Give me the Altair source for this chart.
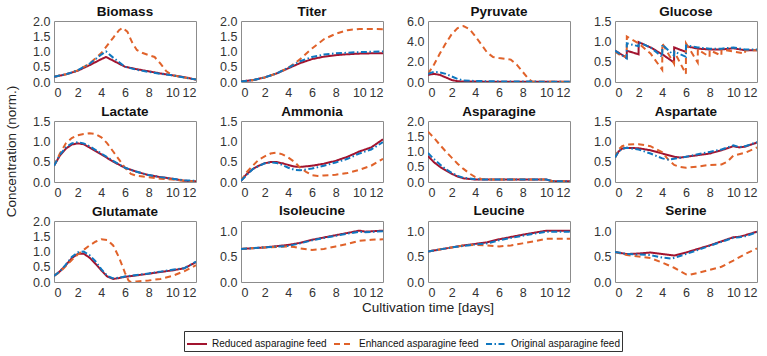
import altair as alt
import pandas as pd

SERIES = ["Reduced asparagine feed", "Enhanced asparagine feed", "Original asparagine feed"]
COLORS = ["#A2142F", "#E0622A", "#0F77C0"]
DASHES = [[1, 0], [6, 4], [6, 2.5, 1.5, 2.5]]

# ---- per-panel time courses: (time [days], normalized concentration) ----
biomass_red_t = [0, 1, 2, 3, 4, 4.4, 5, 6, 7, 8, 9, 10, 11, 12]
biomass_red_v = [0.17, 0.25, 0.37, 0.55, 0.75, 0.82, 0.7, 0.5, 0.42, 0.35, 0.28, 0.22, 0.16, 0.08]
biomass_enh_t = [0, 1, 2, 3, 4, 4.5, 5, 5.5, 5.8, 6.2, 6.6, 7, 7.5, 8, 8.5, 9, 9.5, 10, 11, 12]
biomass_enh_v = [0.17, 0.25, 0.38, 0.6, 0.95, 1.2, 1.45, 1.7, 1.78, 1.65, 1.3, 1.05, 0.95, 0.88, 0.82, 0.6, 0.35, 0.22, 0.15, 0.08]
biomass_ori_t = [0, 1, 2, 3, 4, 4.4, 5, 6, 7, 8, 9, 10, 11, 12]
biomass_ori_v = [0.17, 0.25, 0.38, 0.6, 0.9, 1.0, 0.8, 0.5, 0.4, 0.33, 0.27, 0.22, 0.15, 0.08]

titer_red_t = [0, 1, 2, 3, 4, 5, 6, 7, 8, 9, 10, 11, 12]
titer_red_v = [0.02, 0.06, 0.15, 0.28, 0.45, 0.62, 0.75, 0.83, 0.88, 0.91, 0.93, 0.94, 0.94]
titer_enh_t = [0, 1, 2, 3, 4, 4.5, 5, 6, 7, 8, 9, 10, 11, 12]
titer_enh_v = [0.02, 0.06, 0.15, 0.28, 0.47, 0.6, 0.75, 1.1, 1.4, 1.58, 1.7, 1.74, 1.74, 1.73]
titer_ori_t = [0, 1, 2, 3, 4, 5, 6, 7, 8, 9, 10, 11, 12]
titer_ori_v = [0.02, 0.06, 0.15, 0.28, 0.47, 0.68, 0.82, 0.9, 0.94, 0.96, 0.98, 0.99, 1.0]

pyruvate_red_t = [0, 0.5, 1, 1.5, 2, 2.5, 3, 4, 6, 12]
pyruvate_red_v = [0.7, 0.8, 0.7, 0.45, 0.2, 0.07, 0.05, 0.04, 0.03, 0.02]
pyruvate_enh_t = [0, 0.5, 1, 1.5, 2, 2.5, 3, 3.5, 4, 4.5, 5, 5.5, 6, 7, 7.5, 8, 8.5, 8.8, 9, 12]
pyruvate_enh_v = [0.8, 1.7, 2.8, 3.8, 4.7, 5.3, 5.5, 5.2, 4.5, 3.7, 2.9, 2.45, 2.35, 2.2, 1.7, 1.0, 0.3, 0.05, 0.02, 0.01]
pyruvate_ori_t = [0, 0.5, 1, 1.5, 2, 2.5, 3, 4, 6, 8, 12]
pyruvate_ori_v = [0.8, 1.0, 0.95, 0.8, 0.55, 0.3, 0.15, 0.1, 0.06, 0.04, 0.03]

glucose_red_t = [0, 0.99, 1.0, 1.99, 2.0, 3, 4, 4.99, 5.0, 5.99, 6.0, 7, 8, 9, 10, 11, 12]
glucose_red_v = [0.77, 0.6, 0.77, 0.68, 0.98, 0.85, 0.68, 0.48, 0.85, 0.74, 0.88, 0.82, 0.8, 0.8, 0.83, 0.78, 0.78]
glucose_enh_t = [0, 0.5, 0.99, 1.0, 2, 3, 3.99, 4.0, 4.99, 5.0, 5.99, 6.0, 6.99, 7.0, 7.99, 8.0, 8.99, 9.0, 10, 10.99, 11.0, 12]
glucose_enh_v = [0.75, 0.65, 0.62, 1.12, 0.95, 0.7, 0.3, 0.95, 0.45, 0.75, 0.2, 0.95, 0.48, 0.8, 0.62, 0.78, 0.65, 0.8, 0.75, 0.7, 0.78, 0.78]
glucose_ori_t = [0, 0.99, 1.0, 1.99, 2.0, 3, 3.99, 4.0, 4.99, 5.0, 5.99, 6.0, 7, 8, 9, 10, 11, 12]
glucose_ori_v = [0.77, 0.58, 0.95, 0.88, 0.98, 0.85, 0.62, 0.92, 0.65, 0.75, 0.62, 0.9, 0.85, 0.82, 0.82, 0.85, 0.8, 0.8]

lactate_red_t = [0, 0.5, 1, 1.5, 2, 2.5, 3, 4, 5, 6, 7, 8, 9, 10, 11, 12]
lactate_red_v = [0.4, 0.65, 0.82, 0.92, 0.95, 0.93, 0.85, 0.68, 0.5, 0.35, 0.25, 0.17, 0.12, 0.08, 0.03, 0.02]
lactate_enh_t = [0, 0.5, 1, 1.5, 2, 2.5, 3, 3.5, 4, 4.5, 5, 5.5, 6, 6.5, 7, 8, 9, 10, 11, 12]
lactate_enh_v = [0.4, 0.7, 0.95, 1.08, 1.15, 1.18, 1.2, 1.18, 1.1, 0.95, 0.75, 0.55, 0.35, 0.2, 0.15, 0.12, 0.08, 0.06, 0.03, 0.02]
lactate_ori_t = [0, 0.5, 1, 1.5, 2, 2.5, 3, 4, 5, 6, 7, 8, 9, 10, 11, 12]
lactate_ori_v = [0.4, 0.67, 0.85, 0.95, 0.98, 0.95, 0.88, 0.7, 0.52, 0.35, 0.25, 0.17, 0.12, 0.08, 0.04, 0.03]

ammonia_red_t = [0, 0.5, 1, 1.5, 2, 2.5, 3, 3.5, 4, 4.5, 5, 6, 7, 8, 9, 10, 11, 12]
ammonia_red_v = [0.03, 0.2, 0.32, 0.4, 0.46, 0.49, 0.49, 0.46, 0.42, 0.38, 0.37, 0.4, 0.45, 0.52, 0.62, 0.75, 0.85, 1.05]
ammonia_enh_t = [0, 0.5, 1, 1.5, 2, 2.5, 3, 3.5, 4, 4.5, 5, 5.5, 6, 6.5, 7, 8, 9, 10, 11, 12]
ammonia_enh_v = [0.03, 0.25, 0.4, 0.55, 0.63, 0.7, 0.72, 0.68, 0.6, 0.5, 0.35, 0.25, 0.17, 0.15, 0.16, 0.18, 0.22, 0.3, 0.4, 0.57]
ammonia_ori_t = [0, 1, 2, 2.5, 3, 3.5, 4, 4.5, 5, 6, 7, 8, 9, 10, 11, 12]
ammonia_ori_v = [0.03, 0.32, 0.46, 0.48, 0.47, 0.42, 0.35, 0.3, 0.29, 0.33, 0.4, 0.48, 0.57, 0.7, 0.8, 0.98]

asparagine_red_t = [0, 0.5, 1, 1.5, 2, 2.5, 3, 4, 5, 6, 8, 10, 10.5, 12]
asparagine_red_v = [0.85, 0.65, 0.5, 0.38, 0.27, 0.18, 0.12, 0.08, 0.08, 0.08, 0.08, 0.08, 0.03, 0.02]
asparagine_enh_t = [0, 0.5, 1, 1.5, 2, 2.5, 3, 3.5, 4, 4.5, 5, 8, 10, 10.5, 12]
asparagine_enh_v = [1.65, 1.45, 1.22, 1.0, 0.8, 0.6, 0.43, 0.28, 0.16, 0.1, 0.08, 0.08, 0.08, 0.03, 0.02]
asparagine_ori_t = [0, 0.5, 1, 1.5, 2, 2.5, 3, 4, 5, 8, 10, 10.5, 12]
asparagine_ori_v = [0.95, 0.75, 0.58, 0.42, 0.3, 0.2, 0.14, 0.09, 0.08, 0.08, 0.08, 0.03, 0.02]

aspartate_red_t = [0, 0.3, 0.6, 1, 2, 3, 4, 5, 5.5, 6, 7, 8, 9, 10, 10.5, 11, 12]
aspartate_red_v = [0.6, 0.75, 0.82, 0.84, 0.83, 0.78, 0.7, 0.62, 0.6, 0.62, 0.66, 0.7, 0.78, 0.88, 0.85, 0.87, 0.97]
aspartate_enh_t = [0, 0.3, 0.6, 1, 2, 3, 4, 4.5, 5, 5.5, 6, 7, 8, 9, 9.5, 10, 11, 12]
aspartate_enh_v = [0.6, 0.8, 0.88, 0.92, 0.93, 0.88, 0.73, 0.55, 0.42, 0.37, 0.35, 0.38, 0.42, 0.43, 0.5, 0.65, 0.72, 0.85]
aspartate_ori_t = [0, 0.3, 0.6, 1, 2, 3, 4, 4.5, 5, 6, 7, 8, 9, 10, 10.5, 11, 12]
aspartate_ori_v = [0.6, 0.75, 0.82, 0.84, 0.8, 0.7, 0.58, 0.55, 0.57, 0.62, 0.68, 0.74, 0.8, 0.9, 0.86, 0.88, 0.98]

glutamate_red_t = [0, 0.5, 1, 1.5, 2, 2.5, 3, 3.5, 4, 4.5, 5, 5.5, 6, 7, 8, 9, 10, 11, 12]
glutamate_red_v = [0.2, 0.35, 0.55, 0.78, 0.92, 0.93, 0.8, 0.6, 0.38, 0.18, 0.1, 0.13, 0.17, 0.22, 0.27, 0.33, 0.38, 0.45, 0.65]
glutamate_enh_t = [0, 0.5, 1, 1.5, 2, 2.5, 3, 3.5, 4, 4.5, 5, 5.5, 6, 6.3, 6.5, 7, 8, 9, 10, 11, 12]
glutamate_enh_v = [0.2, 0.33, 0.52, 0.72, 0.9, 1.05, 1.2, 1.32, 1.4, 1.38, 1.2, 0.8, 0.3, 0.05, 0.0, 0.02, 0.05, 0.1, 0.2, 0.35, 0.55]
glutamate_ori_t = [0, 0.5, 1, 1.5, 2, 2.5, 3, 3.5, 4, 4.5, 5, 5.5, 6, 7, 8, 9, 10, 11, 12]
glutamate_ori_v = [0.2, 0.35, 0.57, 0.82, 0.97, 1.0, 0.88, 0.68, 0.42, 0.2, 0.12, 0.14, 0.18, 0.23, 0.28, 0.34, 0.4, 0.45, 0.67]

isoleucine_red_t = [0, 2, 4, 5, 6, 8, 10, 10.5, 12]
isoleucine_red_v = [0.65, 0.68, 0.73, 0.77, 0.83, 0.92, 1.01, 0.99, 1.01]
isoleucine_enh_t = [0, 2, 4, 4.5, 5, 6, 7, 8, 9, 10, 11, 12]
isoleucine_enh_v = [0.65, 0.68, 0.7, 0.69, 0.66, 0.63, 0.65, 0.7, 0.75, 0.81, 0.83, 0.84]
isoleucine_ori_t = [0, 2, 4, 5, 6, 8, 10, 10.5, 12]
isoleucine_ori_v = [0.65, 0.68, 0.71, 0.76, 0.82, 0.91, 0.99, 0.98, 1.0]

leucine_red_t = [0, 2, 3, 4, 5, 6, 8, 10, 12]
leucine_red_v = [0.6, 0.68, 0.72, 0.75, 0.78, 0.84, 0.93, 1.01, 1.01]
leucine_enh_t = [0, 2, 3, 4, 5, 6, 7, 8, 9, 10, 11, 12]
leucine_enh_v = [0.6, 0.68, 0.72, 0.73, 0.72, 0.7, 0.72, 0.76, 0.8, 0.85, 0.85, 0.85]
leucine_ori_t = [0, 2, 3, 4, 5, 6, 8, 10, 12]
leucine_ori_v = [0.6, 0.68, 0.71, 0.74, 0.76, 0.82, 0.91, 0.99, 0.99]

serine_red_t = [0, 1, 2, 3, 4, 5, 6, 7, 8, 9, 10, 10.5, 11, 12]
serine_red_v = [0.59, 0.55, 0.56, 0.58, 0.55, 0.52, 0.58, 0.65, 0.72, 0.8, 0.88, 0.89, 0.92, 0.99]
serine_enh_t = [0, 1, 2, 3, 4, 5, 6, 6.3, 7, 8, 9, 10, 11, 12]
serine_enh_v = [0.59, 0.53, 0.5, 0.47, 0.38, 0.28, 0.15, 0.14, 0.18, 0.24, 0.3, 0.42, 0.55, 0.66]
serine_ori_t = [0, 1, 2, 3, 4, 4.8, 6, 7, 8, 9, 10, 10.5, 11, 12]
serine_ori_v = [0.59, 0.55, 0.54, 0.53, 0.48, 0.46, 0.55, 0.63, 0.71, 0.79, 0.87, 0.88, 0.9, 0.98]

# panel name, y-axis maximum, y tick values, the three series
PANELS = [
    ("Biomass", 2.0, [0, 0.5, 1, 1.5, 2], (biomass_red_t, biomass_red_v), (biomass_enh_t, biomass_enh_v), (biomass_ori_t, biomass_ori_v)),
    ("Titer", 2.0, [0, 0.5, 1, 1.5, 2], (titer_red_t, titer_red_v), (titer_enh_t, titer_enh_v), (titer_ori_t, titer_ori_v)),
    ("Pyruvate", 6.0, [0, 2, 4, 6], (pyruvate_red_t, pyruvate_red_v), (pyruvate_enh_t, pyruvate_enh_v), (pyruvate_ori_t, pyruvate_ori_v)),
    ("Glucose", 1.5, [0, 0.5, 1, 1.5], (glucose_red_t, glucose_red_v), (glucose_enh_t, glucose_enh_v), (glucose_ori_t, glucose_ori_v)),
    ("Lactate", 1.5, [0, 0.5, 1, 1.5], (lactate_red_t, lactate_red_v), (lactate_enh_t, lactate_enh_v), (lactate_ori_t, lactate_ori_v)),
    ("Ammonia", 1.5, [0, 0.5, 1, 1.5], (ammonia_red_t, ammonia_red_v), (ammonia_enh_t, ammonia_enh_v), (ammonia_ori_t, ammonia_ori_v)),
    ("Asparagine", 2.0, [0, 0.5, 1, 1.5, 2], (asparagine_red_t, asparagine_red_v), (asparagine_enh_t, asparagine_enh_v), (asparagine_ori_t, asparagine_ori_v)),
    ("Aspartate", 1.5, [0, 0.5, 1, 1.5], (aspartate_red_t, aspartate_red_v), (aspartate_enh_t, aspartate_enh_v), (aspartate_ori_t, aspartate_ori_v)),
    ("Glutamate", 2.0, [0, 0.5, 1, 1.5, 2], (glutamate_red_t, glutamate_red_v), (glutamate_enh_t, glutamate_enh_v), (glutamate_ori_t, glutamate_ori_v)),
    ("Isoleucine", 1.2, [0, 0.5, 1], (isoleucine_red_t, isoleucine_red_v), (isoleucine_enh_t, isoleucine_enh_v), (isoleucine_ori_t, isoleucine_ori_v)),
    ("Leucine", 1.2, [0, 0.5, 1], (leucine_red_t, leucine_red_v), (leucine_enh_t, leucine_enh_v), (leucine_ori_t, leucine_ori_v)),
    ("Serine", 1.2, [0, 0.5, 1], (serine_red_t, serine_red_v), (serine_enh_t, serine_enh_v), (serine_ori_t, serine_ori_v)),
]

X_TICKS = [0, 2, 4, 6, 8, 10, 12]
FONT = "Liberation Sans"
W, H = 142, 61
COL_GAP, ROW_GAP = 45, 39
LABEL_SIZE = 12.5
GRID_H = 3 * H + 2 * ROW_GAP


def panel(name, ymax, yticks, *curves):
    rows = []
    for s, (ts, vs) in zip(SERIES, curves):
        for i, (t, v) in enumerate(zip(ts, vs)):
            rows.append({"t": t, "v": v, "series": s, "i": i})
    df = pd.DataFrame(rows)

    # a tick label sitting on the top edge pushes the panel title up by half a line
    top_label = abs(yticks[-1] - ymax) < 1e-9
    title_offset = -3 if top_label else -3 + LABEL_SIZE / 2

    # the shared time-axis caption hangs off the bottom axis of the second bottom panel
    if name == "Isoleucine":
        x_axis = alt.Axis(values=X_TICKS, format="d", title="Cultivation time [days]",
                          titleX=(2 * W + COL_GAP) / 2 + 22, titleY=25, titleBaseline="middle",
                          titleAnchor="middle", titleAlign="center", titleFontSize=13.5,
                          titleFontWeight="normal", titleColor="#222")
    else:
        x_axis = alt.Axis(values=X_TICKS, format="d", title=None)

    legend = alt.Legend(
        orient="none", legendX=130, legendY=310, direction="horizontal",
        title=None, symbolType="stroke", symbolSize=400, symbolStrokeWidth=2,
        labelFont=FONT, labelFontSize=10, labelColor="#111", columnPadding=3,
        labelOffset=4, padding=2, strokeColor="#333", fillColor="white", labelLimit=300,
    )
    return (
        alt.Chart(df, title=alt.TitleParams(name, font=FONT, fontSize=13.5, fontWeight="bold",
                                            color="#111", offset=title_offset, frame="group"))
        .mark_line(strokeWidth=2, clip=True)
        .encode(
            x=alt.X("t:Q", scale=alt.Scale(domain=[0, 12], nice=False), axis=x_axis),
            y=alt.Y("v:Q", scale=alt.Scale(domain=[0, ymax], nice=False, zero=True),
                    axis=alt.Axis(values=yticks, format=".1f", title=None)),
            color=alt.Color("series:N", scale=alt.Scale(domain=SERIES, range=COLORS), legend=legend),
            strokeDash=alt.StrokeDash("series:N", scale=alt.Scale(domain=SERIES, range=DASHES), legend=legend),
            order=alt.Order("i:Q"),
            detail="series:N",
        )
        .properties(width=W, height=H)
    )


charts = [panel(*p) for p in PANELS]

chart = (
    alt.concat(*charts, columns=4, spacing={"row": ROW_GAP, "column": COL_GAP}, bounds="flush")
    .properties(
        # the rotated caption is shifted along its own direction down to the middle row
        title=alt.TitleParams("Concentration (norm.)", orient="left", anchor="middle", frame="group",
                              dx=-GRID_H / 2, font=FONT, fontSize=13.5, fontWeight="normal",
                              color="#222", offset=14),
        padding={"left": 4, "top": 4, "right": 4, "bottom": 4},
    )
    .configure_view(stroke="#8c8c8c", strokeWidth=1)
    .configure_axis(
        labelFont=FONT, labelFontSize=LABEL_SIZE, labelColor="#333", grid=False,
        domain=False, ticks=False, labelPadding=4, titleFont=FONT,
    )
)

chart.save("out.html", embed_options={"renderer": "svg", "actions": False})
